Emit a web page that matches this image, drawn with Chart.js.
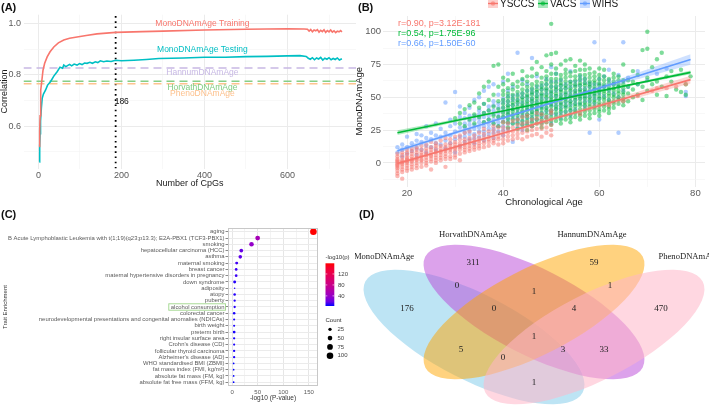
<!DOCTYPE html>
<html>
<head>
<meta charset="utf-8">
<script src="https://cdn.jsdelivr.net/npm/chart.js@4.4.0/dist/chart.umd.min.js"></script>
<style>
  body { margin: 0; background: #fff; width: 709px; height: 407px; overflow: hidden; position: relative; }
  canvas { position: absolute; }
</style>
</head>
<body>
<canvas id="cA" width="357" height="197" style="left:0px;top:0px"></canvas>
<canvas id="cB" width="357" height="210" style="left:352px;top:0px"></canvas>
<canvas id="cC" width="357" height="207" style="left:0px;top:200px"></canvas>
<canvas id="cD" width="354" height="199" style="left:355px;top:208px"></canvas>
<script>
// ---------- (A) correlation vs number of CpGs ----------
const cpgTrain = [2, 3, 4, 5, 6, 8, 11, 15, 21, 28, 37, 48, 61, 75, 93, 115, 141, 186, 250, 300, 400, 500, 600, 640,
  648, 652, 656, 660, 664, 668, 672, 676, 680, 684, 688, 692, 696, 700, 704, 708, 712, 716, 720, 724, 728, 731];
const corTrain = [0.52, 0.58, 0.64, 0.70, 0.74, 0.775, 0.818, 0.845, 0.87, 0.89, 0.909, 0.925, 0.936, 0.943, 0.948, 0.954, 0.96, 0.966, 0.969, 0.971, 0.975, 0.978, 0.98, 0.979,
  0.978, 0.971, 0.977, 0.968, 0.975, 0.972, 0.977, 0.967, 0.974, 0.969, 0.976, 0.966, 0.973, 0.968, 0.975, 0.967, 0.972, 0.965, 0.971, 0.968, 0.973, 0.967];
const cpgTest = [2, 3, 4, 5, 7, 9, 12, 17, 22, 29, 37, 45, 52, 58, 61, 66, 70, 75, 80, 86, 93, 99, 105, 111, 117, 124, 130, 137, 143, 149, 157, 165, 175, 186, 200, 230, 260, 290, 350, 400,
  450, 500, 550, 600, 630, 645, 650, 655, 660, 665, 670, 675, 680, 685, 690, 695, 700, 705, 710, 715, 720, 725, 731];
const corTest = [0.46, 0.52, 0.57, 0.62, 0.67, 0.708, 0.725, 0.74, 0.76, 0.773, 0.795, 0.812, 0.83, 0.826, 0.838, 0.832, 0.836, 0.841, 0.835, 0.842, 0.838, 0.844, 0.84, 0.846, 0.845, 0.849, 0.845, 0.851, 0.848, 0.855, 0.851, 0.854, 0.852, 0.857, 0.855, 0.857, 0.86, 0.864, 0.866, 0.869,
  0.869, 0.871, 0.872, 0.874, 0.875, 0.872, 0.865, 0.861, 0.867, 0.859, 0.866, 0.862, 0.868, 0.858, 0.865, 0.861, 0.867, 0.859, 0.864, 0.86, 0.866, 0.858, 0.863];
const clockNames = ['HannumDNAmAge', 'HorvathDNAmAge', 'PhenoDNAmAge'];
const clockCor = [0.827, 0.775, 0.765];
const clockColors = ['#C7B8E4', '#86CE86', '#FDC38E'];
const chosenCpgs = 186;
const lineLabels = ['MonoDNAmAge Training', 'MonoDNAmAge Testing', 'HannumDNAmAge', 'HorvathDNAmAge', 'PhenoDNAmAge'];
const lineLabelCor = [0.999, 0.897, 0.807, 0.750, 0.727];
const lineLabelColors = ['#F8766D', '#00BFC4', '#C7B8E4', '#7FCB7F', '#FDC08C'];

// ---------- (B) MonoDNAmAge vs chronological age ----------
const cohorts = ['YSCCS', 'VACS', 'WIHS'];
const cohortColors = ['#F8766D', '#00BA38', '#619CFF'];
const cohortStats = ['r=0.90, p=3.12E-181', 'r=0.54, p=1.75E-96', 'r=0.66, p=1.50E-60'];
const ysccsPts = [
  [18, [-10, -8, -6, -4, -3, -2, -1, 0, 1, 2, 3, 5, 7]], [19, [-12, -7, -5, -3, -1, 0, 1, 2, 4, 6, 8]],
  [20, [-6, -4, -2, 0, 1, 2, 3, 4, 6, 8, 10]], [21, [-5, -3, -1, 1, 2, 3, 5, 7, 9, 11]],
  [22, [-4, -2, 0, 2, 3, 4, 6, 8, 10, 12]], [23, [-3, 0, 2, 3, 5, 6, 8, 10, 13]],
  [24, [-2, 0, 2, 4, 6, 7, 9, 11, 14]], [25, [-5, 1, 3, 5, 6, 8, 10, 12, 16]],
  [26, [0, 2, 4, 6, 8, 9, 11, 13, 15]], [27, [2, 4, 6, 8, 9, 11, 13, 17]],
  [28, [-3, 3, 5, 7, 9, 10, 12, 14, 19]], [29, [3, 5, 8, 10, 11, 13, 15, 18]],
  [30, [4, 6, 9, 11, 12, 14, 16, 20]], [31, [2, 7, 10, 12, 13, 15, 18, 21]],
  [32, [8, 10, 12, 14, 16, 18, 23]], [33, [9, 11, 13, 15, 17, 19, 24]],
  [34, [10, 12, 14, 16, 18, 21]], [35, [11, 13, 15, 17, 19, 23]],
  [36, [12, 15, 17, 19, 22, 26]], [37, [13, 16, 18, 20, 24]],
  [38, [15, 17, 19, 22, 25, 28]], [39, [14, 18, 20, 23, 27]],
  [40, [15, 18, 21, 24, 27, 31]], [41, [17, 20, 23, 26, 30]],
  [42, [18, 21, 24, 27, 32]], [43, [19, 22, 25, 29, 33]],
  [44, [18, 23, 26, 30, 35]], [45, [20, 24, 27, 31, 36]],
  [46, [21, 25, 28, 33]], [47, [22, 26, 30, 34, 38]],
  [48, [20, 26, 29, 32, 37]], [49, [23, 27, 31, 35]],
  [50, [21, 25, 29, 33, 38, 40]], [56, [37]], [62, [44]], [65, [47]], [68, [51]],
  [71, [55]], [72, [57]], [74, [57]], [76, [58]], [78, [60]]
];
const vacsPts = [
  [30, [34]], [31, [30, 38]], [32, [28, 41]], [33, [33, 44]], [34, [30, 37, 46]],
  [35, [35, 42, 53]], [36, [31, 38, 45, 58]], [37, [33, 40, 48, 62]], [38, [30, 36, 43, 52, 74]],
  [39, [28, 35, 41, 47, 58, 75]], [40, [31, 35, 38, 42, 45, 48, 52, 55, 60, 65]],
  [41, [27, 31, 34, 37, 39, 42, 44, 47, 50, 53, 57, 63]], [42, [30, 33, 36, 39, 41, 44, 46, 49, 52, 56, 60, 68]],
  [43, [26, 30, 33, 36, 38, 41, 43, 46, 48, 51, 54, 58, 62]], [44, [29, 32, 35, 38, 40, 43, 45, 48, 50, 53, 56, 60, 64, 70]],
  [45, [25, 29, 32, 35, 37, 40, 42, 45, 47, 50, 52, 55, 58, 62, 66]], [46, [28, 31, 34, 37, 39, 42, 44, 47, 49, 52, 54, 57, 60, 66, 72]],
  [47, [30, 33, 36, 39, 41, 44, 46, 49, 51, 54, 56, 59, 62, 68, 77]], [48, [27, 30, 33, 36, 38, 41, 43, 46, 48, 51, 53, 56, 58, 61, 65, 73]],
  [49, [31, 34, 37, 40, 42, 45, 47, 50, 52, 55, 57, 60, 63, 66, 70, 82]], [50, [29, 32, 35, 38, 40, 43, 45, 48, 50, 53, 55, 58, 61, 64, 68, 75, 83, 106]],
  [51, [32, 35, 38, 41, 43, 46, 48, 51, 53, 56, 58, 61, 64, 68, 72, 84]], [52, [30, 33, 36, 39, 41, 44, 46, 49, 51, 54, 56, 59, 61, 64, 67, 75]],
  [53, [33, 36, 39, 42, 44, 47, 49, 52, 54, 57, 59, 62, 65, 68, 71, 78]], [54, [31, 34, 37, 40, 42, 45, 47, 50, 52, 55, 57, 60, 62, 66, 69, 79]],
  [55, [35, 38, 40, 43, 45, 48, 50, 53, 55, 58, 60, 63, 66, 70, 74]], [56, [33, 36, 38, 41, 44, 46, 49, 51, 54, 56, 59, 61, 64, 67, 71, 78]],
  [57, [36, 39, 41, 44, 46, 49, 51, 54, 56, 59, 61, 64, 67, 71, 75]], [58, [34, 37, 40, 43, 45, 48, 50, 53, 55, 58, 60, 62, 65, 68, 72]],
  [59, [38, 41, 43, 46, 48, 51, 53, 56, 58, 61, 63, 66, 69]], [60, [36, 39, 41, 44, 46, 49, 51, 54, 56, 59, 61, 64, 67, 72]],
  [61, [40, 43, 45, 48, 50, 53, 55, 58, 60, 63, 66, 71]], [62, [38, 41, 43, 46, 48, 51, 53, 56, 58, 61, 64]],
  [63, [42, 45, 47, 50, 52, 55, 57, 60, 62, 65, 68]], [64, [45, 48, 50, 53, 55, 58, 60, 63, 66]],
  [65, [44, 47, 49, 52, 54, 57, 60, 63, 75]], [66, [47, 53, 58, 63]], [67, [50, 56, 62, 70]], [68, [52, 60, 67]], [69, [48, 58, 86]],
  [70, [55, 65, 87, 100]], [71, [60, 73]], [72, [52, 62, 79]], [73, [58, 84]], [74, [51, 66]],
  [75, [62, 70]], [76, [56]], [77, [54, 71]], [78, [52, 60]], [79, [66]]
];
const wihsPts = [
  [18, [8, 12]], [19, [5, 10, 14]], [20, [7, 12, 20]], [21, [9, 15]], [22, [6, 11, 17, 22]],
  [23, [10, 16, 21]], [24, [8, 13, 19, 28]], [25, [12, 18, 23]], [26, [10, 15, 21, 30]],
  [27, [14, 20, 26]], [28, [11, 17, 23, 46]], [29, [15, 21, 28, 33]], [30, [8, 18, 24, 30, 54]],
  [31, [13, 20, 27, 35, 43]], [32, [16, 20, 23, 27, 30, 34, 38]], [33, [18, 22, 25, 29, 32, 36, 42]],
  [34, [15, 19, 22, 26, 29, 33, 36, 48]], [35, [20, 24, 27, 31, 34, 37, 40, 50]],
  [36, [17, 21, 24, 28, 31, 35, 38, 45, 55]], [37, [22, 26, 29, 33, 36, 40, 43, 58]],
  [38, [19, 23, 26, 30, 33, 37, 40, 44, 47, 60]], [39, [24, 28, 31, 35, 38, 42, 45, 52]],
  [40, [21, 25, 28, 32, 35, 39, 42, 46, 49, 62]], [41, [26, 30, 33, 37, 40, 44, 47, 51, 55, 68]],
  [42, [16, 30, 34, 37, 41, 44, 48, 51, 58]], [43, [27, 31, 34, 38, 41, 45, 48, 52, 84]],
  [44, [25, 29, 32, 36, 39, 43, 46, 50, 53, 63]], [45, [30, 34, 37, 41, 44, 48, 51, 55, 60]],
  [46, [28, 32, 35, 39, 42, 46, 49, 53, 56, 80]], [47, [33, 37, 40, 44, 47, 51, 54, 58, 66]],
  [48, [31, 35, 38, 42, 45, 49, 52, 56, 59]], [49, [35, 39, 42, 46, 49, 53, 56, 60, 64]],
  [50, [30, 37, 40, 44, 47, 51, 54, 58, 62, 73]], [51, [37, 41, 44, 48, 51, 55, 58, 62, 68]],
  [52, [34, 38, 42, 45, 49, 52, 56, 59, 63]], [53, [39, 43, 46, 50, 53, 57, 60]],
  [54, [36, 40, 44, 47, 51, 54, 58, 62, 70]], [55, [41, 45, 48, 52, 55, 59, 62]],
  [56, [45, 49, 52, 56, 59, 63, 66]], [57, [43, 47, 50, 54, 57, 61, 64]], [58, [23, 47, 51, 54, 58, 61]],
  [59, [45, 49, 52, 56, 60, 92]], [60, [33, 49, 53, 56, 60, 64]], [61, [51, 58, 66, 78]], [62, [48, 55, 63, 71]],
  [63, [53, 60]], [64, [23, 50, 58, 67]], [65, [55, 62, 92]], [66, [58, 65]], [68, [60, 70]],
  [70, [63]], [72, [68]], [74, [72]], [78, [51, 54]]
];
const fitAges = [18, 30, 45, 60, 79];
const ysccsFit = [-0.5, 12.1, 27.9, 43.6, 63.5];
const ysccsSe = [1.2, 0.7, 1.0, 1.8, 3.0];
const vacsFit = [23.0, 32.1, 43.4, 54.7, 69.0];
const vacsSe = [1.8, 1.1, 0.5, 0.6, 1.5];
const wihsFit = [9.2, 22.9, 40.0, 57.1, 78.8];
const wihsSe = [1.8, 1.2, 1.0, 1.6, 4.0];

// ---------- (C) trait enrichment ----------
const traits = ['aging', 'B Acute Lymphoblastic Leukemia with t(1;19)(q23;p13.3); E2A-PBX1 (TCF3-PBX1)', 'smoking',
  'hepatocellular carcinoma (HCC)', 'asthma', 'maternal smoking', 'breast cancer',
  'maternal hypertensive disorders in pregnancy', 'down syndrome', 'adiposity', 'atopy', 'puberty',
  'alcohol consumption', 'colorectal cancer', 'neurodevelopmental presentations and congenital anomalies (NDICAs)',
  'birth weight', 'preterm birth', 'right insular surface area', "Crohn's disease (CD)", 'follicular thyroid carcinoma',
  "Alzheimer's disease (AD)", 'WHO standardised BMI (ZBMI)', 'fat mass index (FMI, kg/m²)', 'absolute fat mass (FM, kg)',
  'absolute fat free mass (FFM, kg)'];
const traitLogP = [159, 50, 38, 18, 16, 9, 8, 8, 5, 5, 5, 5, 5, 4, 4, 4, 4, 4, 4, 4, 4, 3, 3, 3, 3];
const traitCount = [100, 52, 48, 32, 30, 20, 17, 16, 20, 5, 15, 12, 12, 15, 10, 10, 18, 12, 10, 12, 12, 7, 7, 7, 7];
const highlightTrait = 'alcohol consumption';
const colourBreaks = [40, 80, 120];
const countBreaks = [25, 50, 75, 100];

// ---------- (D) Venn diagram ----------
const vennNames = ['MonoDNAmAge', 'HorvathDNAmAge', 'HannumDNAmAge', 'PhenoDNAmAge'];
const vennFills = ['rgba(135,206,235,0.55)', 'rgba(185,70,215,0.5)', 'rgba(255,165,0,0.5)', 'rgba(255,182,200,0.55)'];
const vennRegions = ['M', 'H', 'A', 'P', 'MH', 'HA', 'AP', 'MA', 'HP', 'MP', 'MHA', 'HAP', 'MAP', 'MHP', 'MHAP'];
const vennCounts = [176, 311, 59, 470, 0, 1, 1, 5, 33, 1, 0, 4, 0, 3, 1];

// layout of the Venn drawing (page pixels)
const vennEllipses = [
  { cx: 474, cy: 337, rot: 27 }, { cx: 534, cy: 312, rot: 27 },
  { cx: 534, cy: 312, rot: -27 }, { cx: 594, cy: 337, rot: -27 }
];
const vennAxes = { a: 122, b: 43 };
const vennNamePos = [[384, 257], [473, 235], [592, 235], [689, 257]];
const vennLabelPos = {
  M: [407, 309], H: [473, 263], A: [594, 263], P: [661, 309], MH: [457, 286], HA: [534, 292], AP: [610, 286],
  MA: [461, 350], HP: [604, 350], MP: [534, 383], MHA: [494, 309], HAP: [574, 309], MAP: [503, 358],
  MHP: [563, 350], MHAP: [534, 337]
};

// ---------- helpers ----------
Chart.defaults.font.family = "'Liberation Sans', Arial, sans-serif";
Chart.defaults.animation = false;
const tickGrey = '#5a5a5a';
const manualTicks = values => scale => { scale.ticks = values.map(v => ({ value: v })); };
const ggGrid = isMajor => ({
  color: c => isMajor(c.tick.value) ? '#ebebeb' : '#f4f4f4',
  lineWidth: c => isMajor(c.tick.value) ? 1 : 0.6,
  drawTicks: false
});
const toPoints = groups => groups.flatMap(([age, vals]) => vals.map(v => ({ x: age, y: v })));
const curve = (xs, ys) => xs.map((x, i) => ({ x, y: ys[i] }));
const withSe = (ys, se, sign) => ys.map((y, i) => y + sign * se[i]);

// ggplot-like blue -> red gradient through CIELAB
function lin(c) { c /= 255; return c <= 0.04045 ? c / 12.92 : Math.pow((c + 0.055) / 1.055, 2.4); }
function toLab([r, g, b]) {
  r = lin(r); g = lin(g); b = lin(b);
  const X = (0.4124 * r + 0.3576 * g + 0.1805 * b) / 0.95047;
  const Y = 0.2126 * r + 0.7152 * g + 0.0722 * b;
  const Z = (0.0193 * r + 0.1192 * g + 0.9505 * b) / 1.08883;
  const f = t => t > 0.008856 ? Math.cbrt(t) : 7.787 * t + 16 / 116;
  return [116 * f(Y) - 16, 500 * (f(X) - f(Y)), 200 * (f(Y) - f(Z))];
}
function fromLab([L, a, bb]) {
  const fy = (L + 16) / 116, fx = fy + a / 500, fz = fy - bb / 200;
  const inv = t => t > 0.206893 ? t * t * t : (t - 16 / 116) / 7.787;
  const X = 0.95047 * inv(fx), Y = inv(fy), Z = 1.08883 * inv(fz);
  const g = c => { c = c <= 0.0031308 ? 12.92 * c : 1.055 * Math.pow(c, 1 / 2.4) - 0.055; return Math.round(Math.min(1, Math.max(0, c)) * 255); };
  return [g(3.2406 * X - 1.5372 * Y - 0.4986 * Z), g(-0.9689 * X + 1.8758 * Y + 0.0415 * Z), g(0.0557 * X - 0.2040 * Y + 1.0570 * Z)];
}
const labLow = toLab([0, 0, 255]), labHigh = toLab([255, 0, 0]);
const pMin = Math.min(...traitLogP), pMax = Math.max(...traitLogP);
function pColour(v) {
  const t = Math.min(1, Math.max(0, (v - pMin) / (pMax - pMin)));
  const c = fromLab(labLow.map((l, i) => l + (labHigh[i] - l) * t));
  return `rgb(${c[0]},${c[1]},${c[2]})`;
}
const countRadius = n => 0.33 * Math.sqrt(n);

// ---------- chart A ----------
new Chart(document.getElementById('cA'), {
  type: 'line',
  data: {
    datasets: [
      { data: curve(cpgTrain, corTrain), borderColor: '#F8766D', borderWidth: 1.6 },
      { data: curve(cpgTest, corTest), borderColor: '#00BFC4', borderWidth: 1.6 },
      ...clockNames.map((n, i) => ({
        data: [{ x: -36, y: clockCor[i] }, { x: 765, y: clockCor[i] }],
        borderColor: clockColors[i], borderWidth: 1.6, borderDash: [8, 5]
      })),
      { data: [{ x: chosenCpgs, y: 0.434 }, { x: chosenCpgs, y: 1.035 }], borderColor: '#000', borderWidth: 1.8, borderDash: [1.6, 3.6] }
    ]
  },
  options: {
    responsive: false, devicePixelRatio: 1,
    elements: { point: { radius: 0 }, line: { tension: 0 } },
    layout: { padding: { top: 14.7, right: 1 } },
    plugins: { legend: { display: false }, tooltip: { enabled: false } },
    scales: {
      x: {
        type: 'linear', min: -36, max: 765,
        afterBuildTicks: manualTicks([0, 100, 200, 300, 400, 500, 600, 700]),
        afterFit: s => { s.height = 28.5; },
        ticks: { callback: v => v % 200 === 0 ? v : '', color: tickGrey, font: { size: 9 }, padding: 2, maxRotation: 0 },
        grid: ggGrid(v => v % 200 === 0), border: { display: false },
        title: { display: true, text: 'Number of CpGs', color: '#1a1a1a', font: { size: 9, lineHeight: 1.2 }, padding: { top: 0, bottom: 8.5 } }
      },
      y: {
        type: 'linear', min: 0.434, max: 1.035,
        afterBuildTicks: manualTicks([0.5, 0.6, 0.7, 0.8, 0.9, 1.0]),
        afterFit: s => { s.width = 23.5; },
        ticks: { callback: v => [0.6, 0.8, 1.0].some(m => Math.abs(m - v) < 1e-6) ? v.toFixed(1) : '', color: tickGrey, font: { size: 9 }, padding: 2.5 },
        grid: ggGrid(v => [0.6, 0.8, 1.0].some(m => Math.abs(m - v) < 1e-6)), border: { display: false },
        title: { display: true, text: 'Correlation', color: '#1a1a1a', font: { size: 9, lineHeight: 1 }, padding: 0 }
      }
    }
  },
  plugins: [{
    id: 'labelsA',
    afterDatasetsDraw(chart) {
      const { ctx, scales: { x, y } } = chart;
      ctx.save();
      ctx.textAlign = 'center'; ctx.textBaseline = 'middle';
      ctx.font = "8.5px 'Liberation Sans', Arial, sans-serif";
      lineLabels.forEach((t, i) => {
        ctx.fillStyle = lineLabelColors[i];
        ctx.fillText(t, x.getPixelForValue(395), y.getPixelForValue(lineLabelCor[i]));
      });
      ctx.fillStyle = '#111'; ctx.textAlign = 'left';
      ctx.fillText(String(chosenCpgs), x.getPixelForValue(chosenCpgs) - 1, y.getPixelForValue(0.697));
      ctx.font = "bold 11px 'Liberation Sans', Arial, sans-serif";
      ctx.fillText('(A)', 1, 8);
      ctx.restore();
    }
  }]
});

// ---------- chart B ----------
const ptGroups = [ysccsPts, vacsPts, wihsPts];
const fits = [ysccsFit, vacsFit, wihsFit];
const ses = [ysccsSe, vacsSe, wihsSe];
const alpha = (hex, a) => {
  const n = parseInt(hex.slice(1), 16);
  return `rgba(${n >> 16},${(n >> 8) & 255},${n & 255},${a})`;
};
const bDatasets = [];
ptGroups.forEach((g, i) => bDatasets.push({
  type: 'scatter', data: toPoints(g), order: 5,
  backgroundColor: alpha(cohortColors[i], 0.5), borderWidth: 0, pointRadius: 2.2
}));
fits.forEach((f, i) => {
  bDatasets.push({ type: 'line', data: curve(fitAges, withSe(f, ses[i], -1)), borderWidth: 0, pointRadius: 0, fill: false, order: 2, tension: 0.4 });
  bDatasets.push({ type: 'line', data: curve(fitAges, withSe(f, ses[i], 1)), borderWidth: 0, pointRadius: 0, fill: '-1', backgroundColor: alpha(cohortColors[i], 0.3), order: 2, tension: 0.4 });
  bDatasets.push({ type: 'line', data: curve(fitAges, f), borderColor: cohortColors[i], borderWidth: 1.6, pointRadius: 0, fill: false, order: 1 });
});
new Chart(document.getElementById('cB'), {
  type: 'scatter',
  data: { datasets: bDatasets },
  options: {
    responsive: false, devicePixelRatio: 1,
    layout: { padding: { top: 16, right: 4 } },
    plugins: { legend: { display: false }, tooltip: { enabled: false } },
    scales: {
      x: {
        type: 'linear', min: 15, max: 82,
        afterBuildTicks: manualTicks([20, 30, 40, 50, 60, 70, 80]),
        afterFit: s => { s.height = 23.5; },
        ticks: { callback: v => v % 20 === 0 ? v : '', color: tickGrey, font: { size: 9.5 }, padding: 1, maxRotation: 0 },
        grid: ggGrid(v => v % 20 === 0), border: { display: false },
        title: { display: true, text: 'Chronological Age', color: '#1a1a1a', font: { size: 9.5, lineHeight: 1.2 }, padding: { top: 0, bottom: 2 } }
      },
      y: {
        type: 'linear', min: -18, max: 112,
        afterBuildTicks: manualTicks([-12.5, 0, 12.5, 25, 37.5, 50, 62.5, 75, 87.5, 100]),
        afterFit: s => { s.width = 31; },
        ticks: { callback: v => v % 25 === 0 ? v : '', color: tickGrey, font: { size: 9.5 }, padding: 2 },
        grid: ggGrid(v => v % 25 === 0), border: { display: false },
        title: { display: true, text: 'MonoDNAmAge', color: '#1a1a1a', font: { size: 9.5, lineHeight: 1 }, padding: { top: 3, bottom: 0 } }
      }
    }
  },
  plugins: [{
    id: 'labelsB',
    afterDraw(chart) {
      const { ctx, scales: { x, y } } = chart;
      ctx.save();
      ctx.font = "9px 'Liberation Sans', Arial, sans-serif";
      ctx.textAlign = 'left'; ctx.textBaseline = 'middle';
      [106.6, 99, 91.3].forEach((v, i) => {
        ctx.fillStyle = cohortColors[i];
        ctx.fillText(cohortStats[i], x.getPixelForValue(18.1), y.getPixelForValue(v));
      });
      // legend
      ctx.font = "10px 'Liberation Sans', Arial, sans-serif";
      let lx = 136;
      cohorts.forEach((c, i) => {
        ctx.fillStyle = alpha(cohortColors[i], 0.35);
        ctx.fillRect(lx, -2, 10, 10);
        ctx.strokeStyle = cohortColors[i]; ctx.lineWidth = 1.4;
        ctx.beginPath(); ctx.moveTo(lx, 3.5); ctx.lineTo(lx + 10, 3.5); ctx.stroke();
        ctx.fillStyle = alpha(cohortColors[i], 0.6);
        ctx.beginPath(); ctx.arc(lx + 5, 3.5, 2.2, 0, Math.PI * 2); ctx.fill();
        ctx.fillStyle = '#1a1a1a';
        ctx.fillText(c, lx + 12, 4.5);
        lx += 12 + ctx.measureText(c).width + 3.5;
      });
      ctx.font = "bold 11px 'Liberation Sans', Arial, sans-serif";
      ctx.fillStyle = '#111';
      ctx.fillText('(B)', 6, 8);
      ctx.restore();
    }
  }]
});

// ---------- chart C ----------
new Chart(document.getElementById('cC'), {
  type: 'bubble',
  data: {
    datasets: [{
      data: traits.map((t, i) => ({ x: traitLogP[i], y: i, r: countRadius(traitCount[i]) })),
      backgroundColor: traitLogP.map(pColour), borderWidth: 0, hoverRadius: 0
    }]
  },
  options: {
    responsive: false, devicePixelRatio: 1,
    layout: { padding: { top: 28, right: 39 } },
    plugins: { legend: { display: false }, tooltip: { enabled: false } },
    scales: {
      x: {
        type: 'linear', min: -8, max: 168,
        afterBuildTicks: manualTicks([0, 25, 50, 75, 100, 125, 150]),
        afterFit: s => { s.height = 21; },
        ticks: { callback: v => v % 50 === 0 ? v : '', color: tickGrey, font: { size: 6 }, padding: 2.5, maxRotation: 0 },
        grid: { color: c => c.tick.value % 50 === 0 ? '#e6e6e6' : '#f3f3f3', drawTicks: false },
        border: { display: false },
        title: { display: true, text: '-log10 (P-value)', color: '#333', font: { size: 6.5, lineHeight: 1.2 }, padding: { top: 0, bottom: 4.5 } }
      },
      y: {
        type: 'linear', reverse: true, min: -0.6, max: 24.6,
        afterBuildTicks: manualTicks(traits.map((t, i) => i)),
        afterFit: s => { s.width = 228; },
        ticks: { callback: v => traits[v] ?? '', color: tickGrey, font: { size: 5.9 }, padding: 1, autoSkip: false },
        grid: { color: '#ebebeb', drawTicks: true, tickLength: 2.5, tickColor: '#888' },
        border: { display: false },
        title: { display: true, text: 'Trait Enrichment', color: '#333', font: { size: 6, lineHeight: 1 }, padding: { top: 2, bottom: 0 } }
      }
    }
  },
  plugins: [{
    id: 'decorC',
    afterDraw(chart) {
      const { ctx, chartArea: a, scales: { y } } = chart;
      ctx.save();
      ctx.strokeStyle = '#c8c8c8'; ctx.lineWidth = 1;
      ctx.strokeRect(a.left + 0.5, a.top + 0.5, a.right - a.left - 1, a.bottom - a.top - 1);
      // highlighted label box
      ctx.font = "5.9px 'Liberation Sans', Arial, sans-serif";
      const hi = traits.indexOf(highlightTrait);
      const hy = y.getPixelForValue(hi);
      const w = ctx.measureText(highlightTrait).width;
      ctx.strokeStyle = '#9fd68a'; ctx.lineWidth = 0.9;
      ctx.strokeRect(a.left - 4 - w - 1.5, hy - 3.2, w + 3, 6.4);
      // colour bar legend
      const bx = 325.5, bTop = 63.3, bBot = 106;
      const vToY = v => bBot - (v - pMin) / (pMax - pMin) * (bBot - bTop);
      const grad = ctx.createLinearGradient(0, bBot, 0, bTop);
      for (let k = 0; k <= 10; k++) grad.addColorStop(k / 10, pColour(pMin + (pMax - pMin) * k / 10));
      ctx.fillStyle = grad;
      ctx.fillRect(bx, bTop, 8.8, bBot - bTop);
      ctx.fillStyle = '#333'; ctx.textBaseline = 'middle'; ctx.textAlign = 'left';
      ctx.font = "6px 'Liberation Sans', Arial, sans-serif";
      ctx.fillText('-log10(p)', 325.5, 57.3);
      ctx.strokeStyle = '#fff'; ctx.lineWidth = 0.6;
      colourBreaks.forEach(v => {
        const yy = vToY(v);
        ctx.beginPath(); ctx.moveTo(bx, yy); ctx.lineTo(bx + 1.8, yy); ctx.moveTo(bx + 7, yy); ctx.lineTo(bx + 8.8, yy); ctx.stroke();
        ctx.fillStyle = '#444'; ctx.fillText(String(v), 338, yy);
      });
      ctx.fillStyle = '#333';
      ctx.fillText('Count', 325.5, 120);
      countBreaks.forEach((n, k) => {
        const yy = 129.3 + k * 8.8;
        ctx.fillStyle = '#000';
        ctx.beginPath(); ctx.arc(330, yy, countRadius(n), 0, Math.PI * 2); ctx.fill();
        ctx.fillStyle = '#444'; ctx.fillText(String(n), 337.5, yy);
      });
      ctx.font = "bold 11px 'Liberation Sans', Arial, sans-serif";
      ctx.fillStyle = '#111';
      ctx.fillText('(C)', 1, 15);
      ctx.restore();
    }
  }]
});

// ---------- chart D ----------
new Chart(document.getElementById('cD'), {
  type: 'scatter',
  data: { datasets: [{ data: [] }] },
  options: {
    responsive: false, devicePixelRatio: 1,
    layout: { padding: 0 },
    plugins: { legend: { display: false }, tooltip: { enabled: false } },
    scales: {
      x: { type: 'linear', min: 355, max: 709, display: false },
      y: { type: 'linear', min: 208, max: 407, reverse: true, display: false }
    }
  },
  plugins: [{
    id: 'venn',
    afterDraw(chart) {
      const { ctx, scales: { x, y } } = chart;
      const sx = x.getPixelForValue(1) - x.getPixelForValue(0);
      ctx.save();
      vennEllipses.forEach((e, i) => {
        ctx.beginPath();
        ctx.ellipse(x.getPixelForValue(e.cx), y.getPixelForValue(e.cy), vennAxes.a * sx, vennAxes.b * sx, e.rot * Math.PI / 180, 0, Math.PI * 2);
        ctx.fillStyle = vennFills[i];
        ctx.fill();
      });
      ctx.textAlign = 'center'; ctx.textBaseline = 'middle';
      ctx.fillStyle = '#222';
      ctx.font = "9px 'Liberation Serif', 'Times New Roman', serif";
      vennRegions.forEach((r, i) => {
        const [px, py] = vennLabelPos[r];
        ctx.fillText(String(vennCounts[i]), x.getPixelForValue(px), y.getPixelForValue(py));
      });
      ctx.font = "8.6px 'Liberation Serif', 'Times New Roman', serif";
      vennNames.forEach((n, i) => {
        const [px, py] = vennNamePos[i];
        ctx.fillText(n, x.getPixelForValue(px), y.getPixelForValue(py));
      });
      ctx.textAlign = 'left';
      ctx.font = "bold 11px 'Liberation Sans', Arial, sans-serif";
      ctx.fillStyle = '#111';
      ctx.fillText('(D)', 4, 7);
      ctx.restore();
    }
  }]
});
</script>
</body>
</html>
